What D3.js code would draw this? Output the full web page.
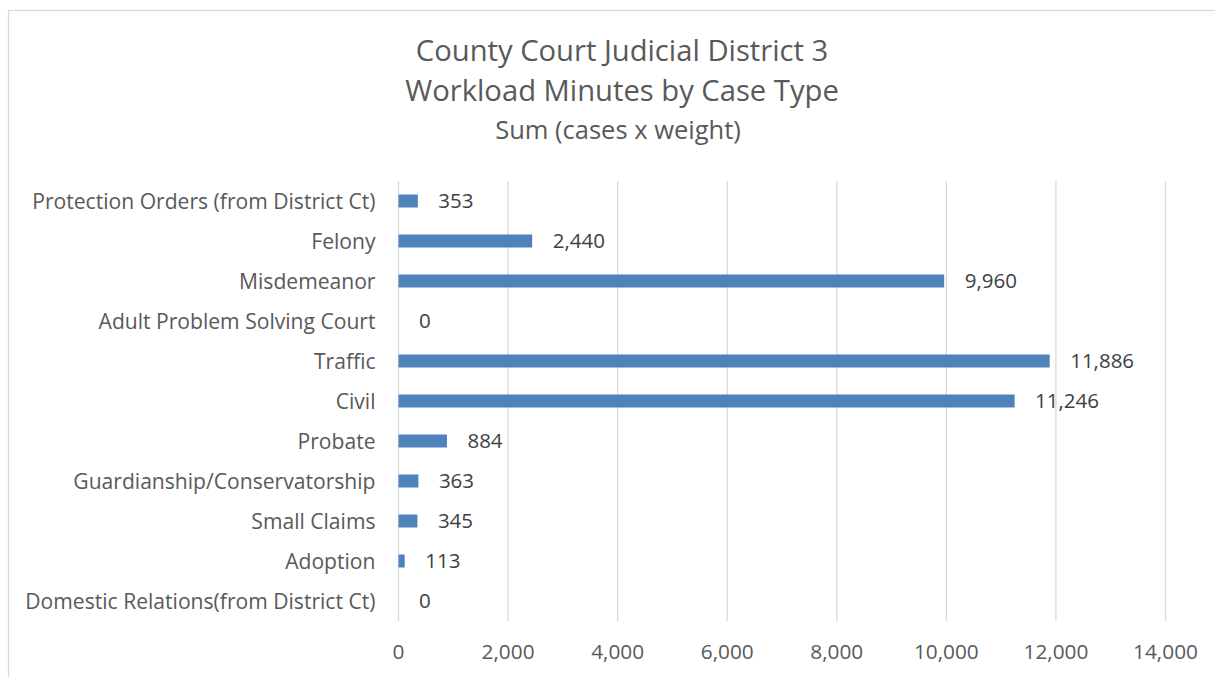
<!DOCTYPE html>
<html>
<head>
<meta charset="utf-8">
<script src="https://cdn.jsdelivr.net/npm/d3@7"></script>
<style>
  html, body { margin: 0; padding: 0; background: #ffffff; }
  svg { display: block; font-family: "Open Sans", "Noto Sans", sans-serif; }
</style>
</head>
<body>
<svg id="chart" width="1215" height="677"></svg>
<script>
const titleLines = ["County Court Judicial District 3", "Workload Minutes by Case Type"];
const subtitle = "Sum (cases x weight)";
const categories = [
  "Protection Orders (from District Ct)",
  "Felony",
  "Misdemeanor",
  "Adult Problem Solving Court",
  "Traffic",
  "Civil",
  "Probate",
  "Guardianship/Conservatorship",
  "Small Claims",
  "Adoption",
  "Domestic Relations(from District Ct)"
];
const values = [353, 2440, 9960, 0, 11886, 11246, 884, 363, 345, 113, 0];
const xTicks = [0, 2000, 4000, 6000, 8000, 10000, 12000, 14000];

const svg = d3.select("#chart");

// chart area border
svg.append("rect")
  .attr("x", 8.5).attr("y", 10.5)
  .attr("width", 1240).attr("height", 700)
  .attr("fill", "#ffffff")
  .attr("stroke", "#d9d9d9").attr("stroke-width", 1.3);

const x = d3.scaleLinear().domain([0, 14000]).range([398.5, 1165.5]);
const y = d3.scaleBand().domain(categories).range([181, 621])
  .paddingInner(0.675).paddingOuter(0.3375);

const fmt = d3.format(",");

// gridlines
svg.append("g").selectAll("line").data(xTicks).join("line")
  .attr("x1", d => x(d)).attr("x2", d => x(d))
  .attr("y1", 181).attr("y2", 621)
  .attr("stroke", "#d9d9d9").attr("stroke-width", 1.3);

// bars
svg.append("g").selectAll("rect").data(values).join("rect")
  .attr("x", x(0))
  .attr("y", (d, i) => y(categories[i]))
  .attr("width", d => x(d) - x(0))
  .attr("height", y.bandwidth())
  .attr("fill", "#4f81bd");

// value labels
svg.append("g").selectAll("text").data(values).join("text")
  .attr("x", d => x(d) + 20.5)
  .attr("y", (d, i) => y(categories[i]) + y.bandwidth() / 2)
  .attr("dy", "0.36em")
  .attr("font-size", 20.5)
  .attr("fill", "#404040")
  .text(d => fmt(d));

// category axis labels
svg.append("g").selectAll("text").data(categories).join("text")
  .attr("x", 375.5)
  .attr("y", d => y(d) + y.bandwidth() / 2)
  .attr("dy", "0.36em")
  .attr("text-anchor", "end")
  .attr("font-size", 21.1)
  .attr("fill", "#595959")
  .text(d => d);

// x axis tick labels
svg.append("g").selectAll("text").data(xTicks).join("text")
  .attr("x", d => x(d))
  .attr("y", 652)
  .attr("dy", "0.36em")
  .attr("text-anchor", "middle")
  .attr("font-size", 20.8)
  .attr("fill", "#595959")
  .text(d => fmt(d));

// titles
svg.append("g").selectAll("text").data(titleLines).join("text")
  .attr("x", 622)
  .attr("y", (d, i) => 50 + i * 40)
  .attr("dy", "0.36em")
  .attr("text-anchor", "middle")
  .attr("font-size", 29.2)
  .attr("fill", "#595959")
  .text(d => d);
svg.append("text")
  .attr("x", 618).attr("y", 130)
  .attr("dy", "0.36em")
  .attr("text-anchor", "middle")
  .attr("font-size", 25.5)
  .attr("fill", "#595959")
  .text(subtitle);
</script>
</body>
</html>
